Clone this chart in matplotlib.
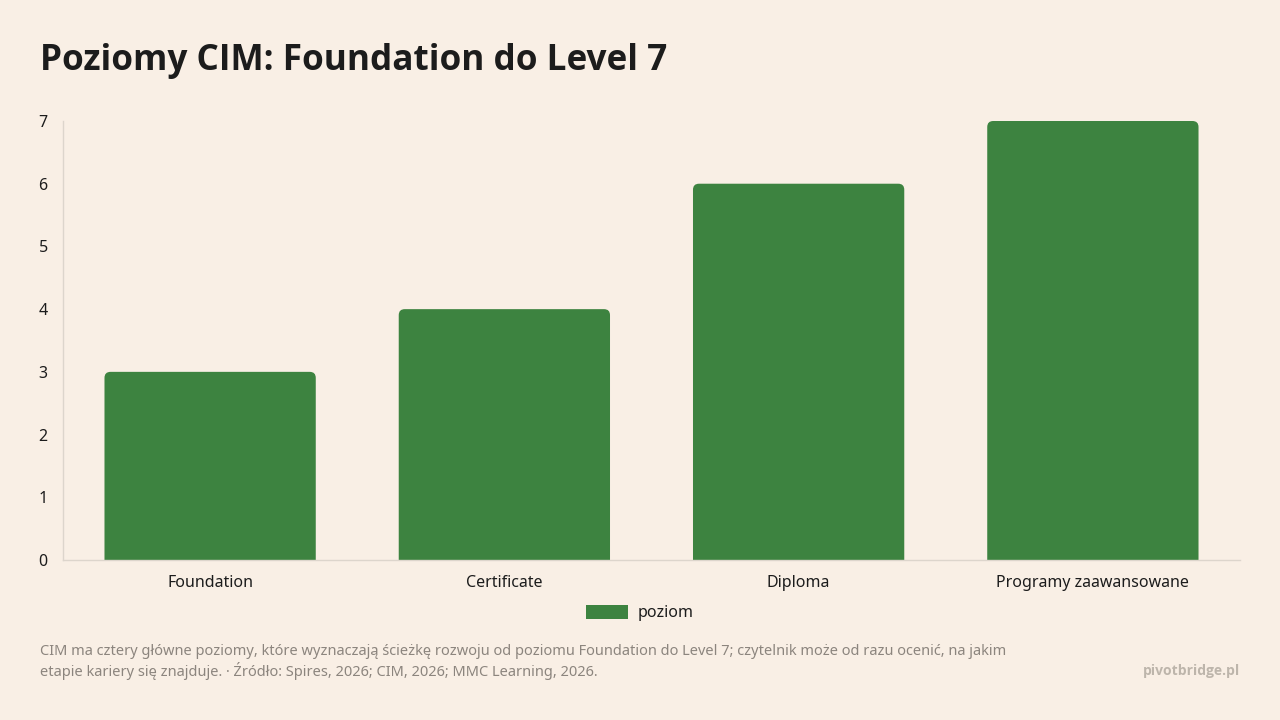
import matplotlib
matplotlib.use("Agg")
from matplotlib import pyplot as plt
from matplotlib.patches import FancyBboxPatch, Patch

categories = ["Foundation", "Certificate", "Diploma", "Programy zaawansowane"]
levels = [3, 4, 6, 7]
y_ticks = [0, 1, 2, 3, 4, 5, 6, 7]

BG = "#f9efe5"
GREEN = "#3d8340"
TEXT = "#1c1c1c"
GREY = "#8c857e"
SPINE = "#ddd5cc"

plt.rcParams["font.family"] = ["Noto Sans", "DejaVu Sans"]
BOLD = ["Open Sans", "Noto Sans", "DejaVu Sans"]

fig = plt.figure(figsize=(12.8, 7.2), dpi=100, facecolor=BG)
ax = fig.add_axes([63 / 1280, 1 - 560 / 720, 1177 / 1280, 439 / 720])
ax.set_facecolor(BG)

xs = list(range(len(categories)))
bars = ax.bar(xs, levels, width=0.718, color=GREEN)

# round the top corners: swap each bar for a rounded box, bottom hidden below 0
px_x = 1177 / 4.0   # pixels per x unit
px_y = 439 / 7.0    # pixels per y unit
radius_px = 6
for b in bars:
    b.set_visible(False)
    x0, w, h = b.get_x(), b.get_width(), b.get_height()
    patch = FancyBboxPatch(
        (x0, -0.5), w, h + 0.5,
        boxstyle="round,pad=0,rounding_size=%f" % (radius_px / px_x),
        mutation_aspect=px_x / px_y,
        facecolor=GREEN, edgecolor="none", clip_on=True)
    ax.add_patch(patch)

ax.set_xlim(-0.5, len(categories) - 0.5)
ax.set_ylim(0, 7)
ax.set_yticks(y_ticks)
ax.set_xticks(xs)
ax.set_xticklabels(categories)
ax.tick_params(axis="both", length=0, labelsize=11.5, colors=TEXT)
ax.tick_params(axis="y", pad=11)
ax.tick_params(axis="x", pad=10.5)
for s in ["top", "right"]:
    ax.spines[s].set_visible(False)
for s in ["left", "bottom"]:
    ax.spines[s].set_color(SPINE)
    ax.spines[s].set_linewidth(1)

fig.legend(handles=[Patch(facecolor=GREEN, label="poziom")],
           loc="center", bbox_to_anchor=(640 / 1280, 1 - 613 / 720),
           frameon=False, fontsize=11.5, handlelength=2.6, handleheight=1.0,
           handletextpad=0.6, labelcolor=TEXT)

fig.text(40 / 1280, 1 - 61 / 720, "Poziomy CIM: Foundation do Level 7",
         fontsize=25.3, fontweight="bold", family=BOLD, color=TEXT,
         va="center", ha="left")

fig.text(40 / 1280, 1 - 662 / 720,
         "CIM ma cztery główne poziomy, które wyznaczają ścieżkę rozwoju od poziomu Foundation do Level 7; czytelnik może od razu ocenić, na jakim\n"
         "etapie kariery się znajduje. · Źródło: Spires, 2026; CIM, 2026; MMC Learning, 2026.",
         fontsize=10.5, color=GREY, va="center", ha="left", linespacing=1.2)

fig.text(1240 / 1280, 1 - 671 / 720, "pivotbridge.pl", fontsize=10,
         fontweight="bold", family=BOLD, color="#bdb5ab", va="center", ha="right")

fig.savefig("out.png", dpi=100, facecolor=BG)
